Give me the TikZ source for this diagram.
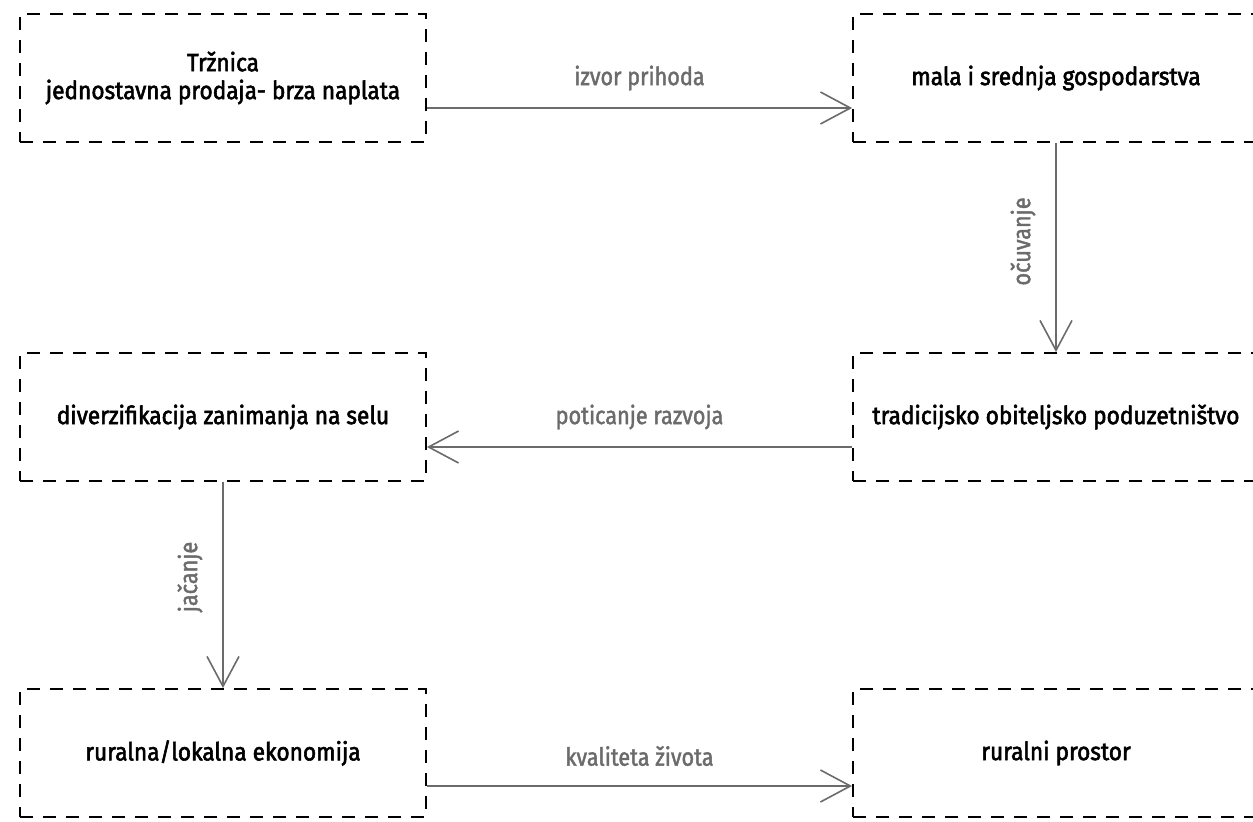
\documentclass[tikz,border=0pt]{standalone}
\usepackage{fontspec}
\setmainfont[FakeStretch=0.91,FakeBold=2.3]{Fira Sans}
\newfontfamily\lblfont[FakeStretch=0.87,FakeBold=1.7]{Fira Sans}
\usetikzlibrary{positioning,calc,arrows.meta}
\definecolor{linegray}{HTML}{6B6B6B}
\begin{document}
\begin{tikzpicture}[x=1bp,y=-1bp,
		box/.style={draw=black,line width=1.8bp,dash pattern=on 13bp off 10bp,minimum width=406bp,minimum height=128bp,align=center,font=\fontsize{25}{28}\selectfont},
		conn/.style={draw=linegray,line width=1.8bp,-{Straight Barb[length=30bp,width=32bp,line width=1.6bp]}},
		lbl/.style={text=linegray,font=\lblfont\fontsize{25}{28}\selectfont}]
		\useasboundingbox (0,0) rectangle (1253,822);
		\node[box] (trznica) at (223,78) {Tržnica\\jednostavna prodaja- brza naplata};
		\node[box] (gosp) at (1056,78) {mala i srednja gospodarstva};
		\node[box] (tradic) at (1056,417) {tradicijsko obiteljsko poduzetništvo};
		\node[box] (diverz) at (223,417) {diverzifikacija zanimanja na selu};
		\node[box] (ekon) at (223,753) {ruralna/lokalna ekonomija};
		\node[box] (prostor) at (1056,753) {ruralni prostor};
		
		\draw[conn] ([yshift=-30bp]trznica.east) -- ([yshift=-30bp]gosp.west) node[midway,lbl,yshift=30bp] {izvor prihoda};
		\draw[conn] (gosp.south) -- (tradic.north) node[midway,lbl,xshift=-33bp,yshift=6bp,rotate=90] {očuvanje};
		\draw[conn] ([yshift=-30bp]tradic.west) -- ([yshift=-30bp]diverz.east) node[midway,lbl,yshift=30bp] {poticanje razvoja};
		\draw[conn] (diverz.south) -- (ekon.north) node[midway,lbl,xshift=-33bp,yshift=8bp,rotate=90] {jačanje};
		\draw[conn] ([yshift=-33bp]ekon.east) -- ([yshift=-33bp]prostor.west) node[midway,lbl,yshift=30bp] {kvaliteta života};
	\end{tikzpicture}
\end{document}
